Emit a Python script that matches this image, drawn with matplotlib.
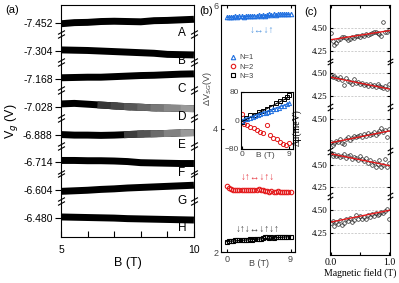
import numpy as np
import matplotlib
matplotlib.use("Agg")
import matplotlib.pyplot as plt
import matplotlib.transforms as mtransforms
from matplotlib.lines import Line2D

plt.rcParams['font.family'] = ['Liberation Sans', 'DejaVu Sans']

# ==============================
# Data: panel (a) - gate voltage traces (deviation in trace-slot units)
# ==============================
field_a = [5.0, 5.5, 6.0, 6.5, 7.0, 7.5, 8.0, 8.5, 9.0, 9.5, 10.0]
trace_names = ['A', 'B', 'C', 'D', 'E', 'F', 'G', 'H']
vg_labels = ['-7.452', '-7.304', '-7.168', '-7.028', '-6.888', '-6.714', '-6.604', '-6.480']
trace_A = [0.02, -0.02, -0.03, -0.06, -0.07, -0.06, -0.05, -0.09, -0.10, -0.12, -0.14]
trace_B = [-0.04, -0.03, -0.02, 0.00, 0.02, 0.04, 0.06, 0.08, 0.12, 0.13, 0.14]
trace_C = [-0.04, -0.05, -0.06, -0.06, -0.08, -0.10, -0.12, -0.13, -0.15, -0.17, -0.18]
trace_D = [-0.10, -0.12, -0.09, -0.06, -0.03, 0.00, 0.02, 0.04, 0.05, 0.06, 0.07]
trace_E = [0.00, 0.02, 0.02, 0.03, 0.02, 0.00, -0.02, -0.03, -0.04, -0.06, -0.07]
trace_F = [-0.07, -0.07, -0.06, -0.06, -0.05, -0.03, 0.01, 0.02, 0.03, 0.04, 0.04]
trace_G = [0.04, 0.02, 0.00, -0.03, -0.05, -0.08, -0.10, -0.12, -0.14, -0.16, -0.18]
trace_H = [-0.04, -0.03, -0.02, -0.01, 0.00, 0.02, 0.03, 0.04, 0.05, 0.06, 0.07]
traces_a = [trace_A, trace_B, trace_C, trace_D, trace_E, trace_F, trace_G, trace_H]
fade_from = [None, None, None, 3, 5, None, None, None]   # index where trace starts to fade

# ==============================
# Data: panel (b)
# ==============================
field_b = np.linspace(0, 9, 31)
dv_N1 = [5.80, 5.81, 5.80, 5.81, 5.82, 5.81, 5.82, 5.82, 5.81, 5.82, 5.83, 5.82, 5.83, 5.82, 5.83, 5.84,
         5.83, 5.84, 5.83, 5.84, 5.85, 5.84, 5.85, 5.84, 5.85, 5.86, 5.85, 5.86, 5.85, 5.86, 5.85]
dv_N2 = [3.07, 3.03, 3.02, 3.01, 3.01, 3.00, 3.01, 3.00, 3.01, 3.00, 3.01, 3.00, 3.00, 3.01, 3.01, 3.02,
         3.00, 3.00, 2.99, 2.99, 2.98, 2.99, 2.98, 2.98, 2.99, 2.98, 2.98, 2.97, 2.98, 2.98, 2.97]
dv_N3 = [2.17, 2.18, 2.18, 2.18, 2.19, 2.19, 2.19, 2.19, 2.20, 2.20, 2.20, 2.21, 2.20, 2.21, 2.21, 2.21,
         2.21, 2.23, 2.24, 2.24, 2.23, 2.24, 2.23, 2.24, 2.24, 2.24, 2.25, 2.24, 2.25, 2.25, 2.25]
spin_N1 = '\u2193\u2194\u2193\u2191'
spin_N2 = '\u2193\u2191\u2194\u2193\u2191\u2193'
spin_N3 = '\u2193\u2191\u2193\u2194\u2193\u2191\u2193\u2191'

# inset (mV)
inset_b_N1 = np.linspace(0, 9, 19)
inset_N1 = [-2, 3, 5, 8, 10, 12, 16, 18, 20, 22, 25, 28, 31, 33, 36, 40, 42, 45, 48]
inset_b_N2 = [0, 0.41, 1.0, 1.6, 2.2, 2.8, 3.35, 3.94, 4.8, 5.4, 6.0, 6.6, 7.2, 7.8, 8.4, 9.0]
inset_N2 = [19, -9, -13, -19, -21, -26, -31, -36, -13, -40, -48, -53, -60, -65, -68, -62]
inset_b_N3 = [0, 0.8, 1.6, 2.4, 3.2, 4.0, 4.8, 5.6, 6.4, 7.2, 8.0, 8.6, 9.0]
inset_N3 = [-5, 8, 14, 15, 25, 28, 32, 38, 48, 55, 60, 65, 72]
fit_N1 = [2, 48]
fit_N3 = [-3, 66]

# ==============================
# Data: panel (c) - five datasets, stacked
# ==============================
field_c = np.linspace(0, 1, 31)
mu_1 = [4.44, 4.36, 4.31, 4.33, 4.37, 4.38, 4.40, 4.40, 4.39, 4.37, 4.38, 4.40, 4.39, 4.41, 4.41, 4.40,
        4.42, 4.41, 4.43, 4.42, 4.43, 4.44, 4.45, 4.45, 4.44, 4.43, 4.41, 4.56, 4.45, 4.46, 4.48]
mu_2 = [4.47, 4.46, 4.47, 4.45, 4.44, 4.46, 4.43, 4.37, 4.45, 4.42, 4.41, 4.39, 4.44, 4.40, 4.41, 4.38,
        4.40, 4.37, 4.39, 4.36, 4.38, 4.36, 4.37, 4.35, 4.39, 4.36, 4.35, 4.34, 4.36, 4.33, 4.38]
mu_3 = [4.25, 4.22, 4.24, 4.26, 4.25, 4.28, 4.24, 4.23, 4.28, 4.30, 4.27, 4.29, 4.32, 4.30, 4.31, 4.33,
        4.30, 4.34, 4.31, 4.35, 4.33, 4.34, 4.36, 4.33, 4.35, 4.37, 4.40, 4.36, 4.38, 4.30, 4.39]
mu_4 = [4.63, 4.60, 4.62, 4.59, 4.61, 4.58, 4.60, 4.62, 4.57, 4.59, 4.61, 4.56, 4.58, 4.57, 4.55, 4.59,
        4.56, 4.54, 4.57, 4.52, 4.55, 4.50, 4.53, 4.47, 4.51, 4.55, 4.48, 4.50, 4.56, 4.47, 4.52]
mu_5 = [4.36, 4.38, 4.33, 4.37, 4.35, 4.39, 4.34, 4.36, 4.40, 4.38, 4.42, 4.37, 4.39, 4.45, 4.41, 4.44,
        4.40, 4.43, 4.41, 4.45, 4.43, 4.46, 4.44, 4.47, 4.45, 4.46, 4.48, 4.47, 4.49, 4.51, 4.41]
mu_sets = [mu_1, mu_2, mu_3, mu_4, mu_5]
mu_fits = [(4.37, 4.47), (4.46, 4.33), (4.24, 4.37), (4.62, 4.49), (4.37, 4.50)]
block_shift = 0.5

blue = '#1f6fe0'
red = '#e41a1c'

fig = plt.figure(figsize=(3.99, 2.83), dpi=100)

def break_marks(ax, xs, ys, dy, ms=5):
    tr = mtransforms.blended_transform_factory(ax.transAxes, ax.transData)
    slash = [(-1, -0.55), (1, 0.55)]
    for x in xs:
        for y in ys:
            for off in (-dy, dy):
                ax.plot([x], [y + off], marker=slash, ms=ms, mec='k', mew=0.8, ls='none',
                        transform=tr, clip_on=False, zorder=6)

# ==============================
# Panel (a)
# ==============================
ax_a = fig.add_axes([0.153, 0.1625, 0.333, 0.8195])
for k, tr_vals in enumerate(traces_a):
    y = k + np.array(tr_vals)
    ax_a.plot(field_a, y, color='k', lw=5, solid_capstyle='butt')
    if fade_from[k] is not None:
        # gradual fade to grey along the trace
        i0 = fade_from[k]
        nseg = len(field_a) - 1 - i0
        for j in range(i0, len(field_a) - 1):
            g = 0.15 + 0.45 * (j - i0 + 1) / nseg
            ax_a.plot(field_a[j:j + 2], y[j:j + 2], color=(g, g, g), lw=5,
                      solid_capstyle='projecting' if j < len(field_a) - 2 else 'butt')
    ax_a.text(9.55, k + 0.37, trace_names[k], fontsize=8.5, ha='center', va='center')
ax_a.set_xlim(5, 10)
ax_a.set_ylim(7.68, -0.65)
ax_a.set_yticks(range(len(vg_labels)))
ax_a.set_yticklabels(vg_labels, fontsize=7.5)
ax_a.set_xticks([5, 6, 7, 8, 9, 10])
ax_a.set_xticklabels(['5', '', '', '', '', '10'], fontsize=7.5)
ax_a.tick_params(axis='y', direction='out', length=4, pad=2)
ax_a.tick_params(axis='x', direction='in', length=4, pad=6)
ax_a.set_xlabel('B (T)', fontsize=9, labelpad=1)
ax_a.set_ylabel('V$_g$ (V)', fontsize=9, labelpad=2)
break_marks(ax_a, [0, 1], [k + 0.4 for k in range(7)], 0.07)
fig.text(0.012, 0.965, '(a)', fontsize=8, va='center')

# ==============================
# Panel (b)
# ==============================
ax_b = fig.add_axes([0.554, 0.1095, 0.185, 0.8725])
mk = dict(ls='none', mfc='none', ms=3.2, mew=0.8)
ax_b.plot(field_b, dv_N1, marker='^', mec=blue, **mk)
ax_b.plot(field_b, dv_N2, marker='o', mec=red, **mk)
ax_b.plot(field_b, dv_N3, marker='s', mec='k', **mk)
ax_b.plot([field_b[0], field_b[-1]], [dv_N1[0], dv_N1[-1]], color=blue, lw=0.8)
ax_b.plot([field_b[0], field_b[-1]], [dv_N3[0], dv_N3[-1]], color='k', lw=0.8)
ax_b.text(4.9, 5.6, spin_N1, color='#5b9be0', fontsize=7, ha='center', va='center')
ax_b.text(4.4, 3.21, spin_N2, color='#e8404a', fontsize=7, ha='center', va='center')
ax_b.text(4.4, 2.37, spin_N3, color='#444444', fontsize=7, ha='center', va='center')
ax_b.set_xlim(-0.8, 9.6)
ax_b.set_ylim(2, 6)
ax_b.set_yticks([2, 4, 6])
ax_b.set_xticks([0, 9])
ax_b.tick_params(direction='in', length=2.5, labelsize=6.5, labelcolor='#444444',
                 top=True, right=True, pad=2)
ax_b.text(4.5, -0.03, 'B (T)', fontsize=6.5, color='#444444', ha='center', va='top',
          transform=mtransforms.blended_transform_factory(ax_b.transData, ax_b.transAxes))
ax_b.set_ylabel('\u0394V$_{SG}$(V)', fontsize=6.5, color='#444444')
ax_b.yaxis.set_label_coords(-0.10, 0.66)
handles = [Line2D([], [], marker='^', mec=blue, **mk),
           Line2D([], [], marker='o', mec=red, **mk),
           Line2D([], [], marker='s', mec='k', **mk)]
ax_b.legend(handles, ['N=1', 'N=2', 'N=3'], loc='upper left', bbox_to_anchor=(0.06, 0.82),
            frameon=False, fontsize=5.5, handlelength=0.8, handletextpad=0.4,
            labelspacing=0.25, borderpad=0.1, labelcolor='#444444')
fig.text(0.500, 0.962, '(b)', fontsize=8, va='center')

# inset
ax_in = fig.add_axes([0.604, 0.4735, 0.130, 0.2015])
mk_in = dict(ls='none', mfc='none', ms=3.0, mew=0.7)
ax_in.plot(inset_b_N2, inset_N2, marker='o', mec=red, **mk_in)
ax_in.plot(inset_b_N3, inset_N3, marker='s', mec='k', **mk_in)
ax_in.plot(inset_b_N1, inset_N1, marker='^', mec=blue, **mk_in)
ax_in.plot([0, 9], fit_N3, color='k', lw=0.8)
ax_in.plot([0, 9], fit_N1, color=blue, lw=0.8)
ax_in.set_xlim(-0.2, 9.7)
ax_in.set_ylim(-80, 80)
ax_in.set_yticks([-80, 0, 80])
ax_in.set_xticks([0, 9])
ax_in.tick_params(direction='in', length=2, labelsize=6, labelcolor='#444444', pad=1.5)
ax_in.text(4.5, -0.06, 'B (T)', fontsize=6, color='#444444', ha='center', va='top',
           transform=mtransforms.blended_transform_factory(ax_in.transData, ax_in.transAxes))

# ==============================
# Panel (c)
# ==============================
ax_c = fig.add_axes([0.827, 0.099, 0.150, 0.883])
c_ticks, c_labels = [], []
for k, (vals, fit) in enumerate(zip(mu_sets, mu_fits)):
    shift = block_shift * k
    ax_c.plot(field_c, np.array(vals) - shift, ls='none', marker='o', ms=2.6,
              mfc='none', mec='#222222', mew=0.5)
    ax_c.plot([0, 1], np.array(fit) - shift, color=red, lw=1.0)
    for lev in (4.50, 4.25):
        ax_c.axhline(lev - shift, color='#bbbbbb', lw=0.5, ls=(0, (3, 2)), zorder=0)
        if not (k == 2 and lev == 4.25):
            c_ticks.append(lev - shift)
            c_labels.append(f'{lev:.2f}')
ax_c.set_xlim(-0.01, 1.01)
ax_c.set_ylim(2.01, 4.75)
ax_c.set_yticks(c_ticks)
ax_c.set_yticklabels(c_labels, family='Liberation Serif', fontsize=6.5)
ax_c.set_xticks([0, 0.5, 1.0])
ax_c.set_xticklabels(['0.0', '', '1.0'], family='Liberation Serif', fontsize=7)
ax_c.tick_params(direction='in', length=2.5, top=True, right=True, pad=2)
ax_c.set_xlabel('Magnetic field (T)', family='Liberation Serif', fontsize=7, labelpad=1)
ax_c.set_ylabel('\u0394\u03bc(meV)', family='Liberation Serif', fontsize=7)
ax_c.yaxis.set_label_coords(-0.47, 0.51)
break_marks(ax_c, [0, 1], [4.13, 3.63, 3.15, 2.66], 0.02, ms=4)
fig.text(0.762, 0.958, '(c)', fontsize=8, va='center')

fig.savefig('out.png', dpi=100)
